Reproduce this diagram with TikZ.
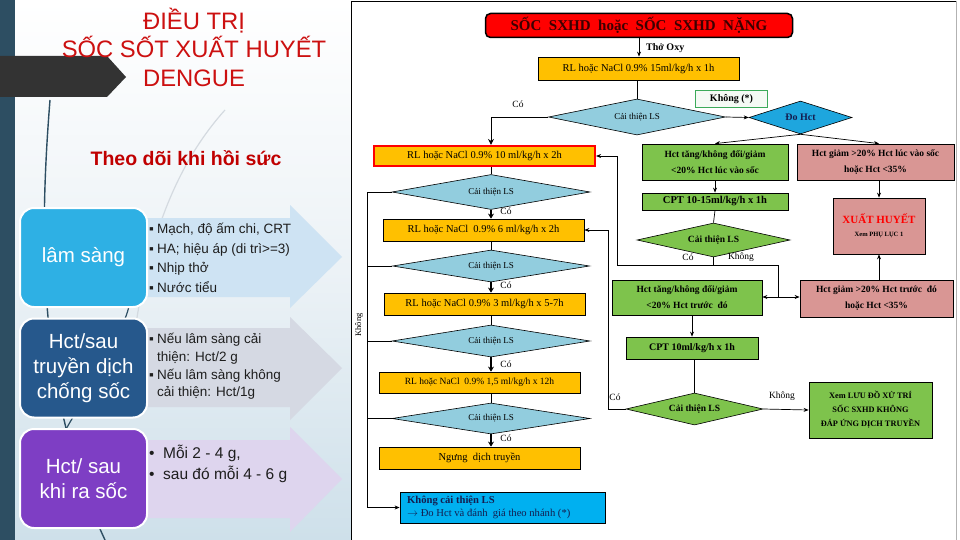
\documentclass[tikz,border=0pt]{standalone}
\usepackage{fontspec}
\setmainfont{Liberation Serif}
\newfontfamily\arialf{Liberation Sans}
\newfontfamily\timesf{Liberation Serif}
\usetikzlibrary{shapes.geometric,arrows.meta,calc}
\definecolor{barcol}{RGB}{45,78,98}
\definecolor{pentcol}{RGB}{51,51,51}
\definecolor{titred}{RGB}{204,16,16}
\definecolor{subred}{RGB}{192,0,0}
\definecolor{bgbot}{RGB}{206,224,234}
\definecolor{bgmid}{RGB}{236,242,246}
\definecolor{arA}{RGB}{206,227,243}
\definecolor{arB}{RGB}{213,217,227}
\definecolor{arC}{RGB}{222,213,238}
\definecolor{boxA}{RGB}{46,176,228}
\definecolor{boxB}{RGB}{38,88,140}
\definecolor{boxC}{RGB}{126,62,196}
\definecolor{txtgray}{RGB}{30,30,30}
\definecolor{flyellow}{RGB}{255,192,0}
\definecolor{flgreen}{RGB}{126,195,76}
\definecolor{flpink}{RGB}{217,150,148}
\definecolor{flblue}{RGB}{146,205,222}
\definecolor{hctblue}{RGB}{30,166,222}
\definecolor{navy}{RGB}{20,30,80}
\definecolor{kgreen}{RGB}{60,170,90}
\definecolor{kfill}{RGB}{245,250,245}
\definecolor{bluebox}{RGB}{0,176,240}
\definecolor{maroon}{RGB}{60,0,0}
\definecolor{swoosh}{RGB}{45,78,98}
\definecolor{swgray}{RGB}{212,218,224}
\begin{document}
\begin{tikzpicture}[x=1pt,y=-1pt,
  box/.style={draw=black, line width=0.8pt, inner sep=1pt, align=center,
    font=\timesf\fontsize{10.5}{12}\selectfont},
  ybox/.style={box, fill=flyellow},
  gbox/.style={box, fill=flgreen, font=\timesf\bfseries\fontsize{9.5}{16}\selectfont},
  pbox/.style={box, fill=flpink, font=\timesf\bfseries\fontsize{9.5}{16}\selectfont},
  ldia/.style={diamond, draw=black, line width=0.6pt, fill=flblue, inner sep=0pt, aspect=5,
    font=\timesf\fontsize{9}{10}\selectfont},
  gdia/.style={diamond, draw=black, line width=0.6pt, fill=flgreen, inner sep=0pt, aspect=5,
    font=\timesf\bfseries\fontsize{9.5}{10}\selectfont},
  ln/.style={line width=0.7pt},
  arr/.style={ln, -{Stealth[length=5pt,width=4pt]}},
  harr/.style={line width=1.6pt, -{Stealth[length=5pt,width=6pt]}},
  lbl/.style={font=\timesf\fontsize{9.5}{10}\selectfont, inner sep=0pt},
  rbox/.style={rounded corners=14pt, draw=white, line width=2pt, text=white, align=center,
    inner sep=0pt, minimum width=127pt, minimum height=99pt,
    font=\arialf\fontsize{20.5}{25}\selectfont},
  btxt/.style={anchor=west, align=left, inner sep=0pt, text=txtgray}
]
\useasboundingbox (0,0) rectangle (960,540);
% ---------- left panel background ----------
\fill[top color=white, bottom color=bgbot, middle color=bgmid] (0,0) rectangle (352,540);
\fill[barcol] (0,0) rectangle (15,540);
% decorative swooshes
\draw[swgray, line width=1.2pt] (225,110) .. controls (180,160) and (150,230) .. (135,330);
\draw[swoosh, line width=1.4pt] (50,100) .. controls (38,250) and (40,400) .. (105,540);
\draw[swoosh, line width=1.2pt] (130,300) .. controls (128,330) and (70,420) .. (60,440);
% pentagon
\fill[pentcol] (0,56) -- (107,56) -- (126,77) -- (107,97) -- (0,97) -- cycle;
% title
\node[font=\arialf\fontsize{23.8}{28.5}\selectfont, text=titred, align=center, inner sep=0pt]
  (ttl) at (194,47) {ĐIỀU TRỊ\\SỐC SỐT XUẤT HUYẾT\\DENGUE};
\node[font=\arialf\bfseries\fontsize{19.5}{22}\selectfont, text=subred, inner sep=0pt]
  (sub) at (186,158) {Theo dõi khi hồi sức};
% block arrows
\fill[arA] (100,218) -- (290,218) -- (290,205) -- (342,257) -- (290,308) -- (290,297) -- (100,297) -- cycle;
\fill[arB] (100,328) -- (290,328) -- (290,317) -- (342,368) -- (290,420) -- (290,407) -- (100,407) -- cycle;
\fill[arC] (100,440) -- (290,440) -- (290,427) -- (342,479) -- (290,532) -- (290,518) -- (100,518) -- cycle;
% rounded boxes
\node[rbox, fill=boxA] (bA) at (83.5,257.5) {lâm sàng};
\node[rbox, fill=boxB] (bB) at (83.5,368) {Hct/sau\\truyền dịch\\chống sốc};
\node[rbox, fill=boxC] (bC) at (83.5,478.5) {Hct/ sau\\khi ra sốc};
% bullet texts
\node[btxt, font=\arialf\fontsize{13.5}{19.5}\selectfont] (tA) at (149,258)
  {\makebox[8pt][l]{▪}Mạch, độ ấm chi, CRT\\\makebox[8pt][l]{▪}HA; hiệu áp (di trì>=3)\\\makebox[8pt][l]{▪}Nhịp thở\\\makebox[8pt][l]{▪}Nước tiểu};
\node[btxt, font=\arialf\fontsize{13.5}{17.8}\selectfont] (tB) at (149,366.5)
  {\makebox[8pt][l]{▪}Nếu lâm sàng cải\\\hspace*{8pt}thiện: Hct/2 g\\\makebox[8pt][l]{▪}Nếu lâm sàng không\\\hspace*{8pt}cải thiện: Hct/1g};
\node[btxt, font=\arialf\fontsize{15.5}{21}\selectfont] (tC) at (149,463.5)
  {\makebox[14pt][l]{•}Mỗi 2 - 4 g,\\\makebox[14pt][l]{•}sau đó mỗi 4 - 6 g};
% ---------- right panel ----------
\fill[white] (351,0) rectangle (957,540);
\draw[line width=0.9pt] (351.5,1) -- (956,1);
\draw[line width=0.9pt] (351.5,1) -- (351.5,540);
\draw[gray!60, line width=0.6pt] (956,1) -- (956,540);

\node[draw=black, line width=1.5pt, fill=red, rounded corners=5pt, minimum width=307pt, minimum height=24pt,
  inner sep=0pt, text=maroon, font=\timesf\bfseries\fontsize{15}{16}\selectfont]
  (title) at (639,25.5) {SỐC\ \ SXHD\ \ hoặc\ \ SỐC\ \ SXHD\ \ NẶNG};
\node[ybox, minimum width=201pt, minimum height=23pt] (y15) at (638.5,68.5) {RL hoặc NaCl 0.9\% 15ml/kg/h x 1h};
\node[ldia, minimum width=177pt, minimum height=36pt] (dA) at (637,117) {Cải thiện LS};
\node[draw=kgreen, line width=1.5pt, fill=kfill, minimum width=72pt, minimum height=17pt, inner sep=0pt,
  font=\timesf\bfseries\fontsize{10}{11}\selectfont] (kh) at (731.5,99) {Không (*)};
\node[diamond, draw=black, line width=0.6pt, fill=hctblue, inner sep=0pt, aspect=3, minimum width=103pt,
  minimum height=33pt, text=navy, font=\timesf\bfseries\fontsize{10}{11}\selectfont] (doh) at (800.5,117.5) {Đo Hct};
\node[gbox, minimum width=146pt, minimum height=36pt] (g1) at (715,162) {Hct tăng/không đổi/giảm\\<20\% Hct lúc vào sốc};
\node[pbox, minimum width=157pt, minimum height=36pt] (p1) at (875.5,162) {Hct giảm >20\% Hct lúc vào sốc\\hoặc Hct <35\%};
\node[gbox, minimum width=146pt, minimum height=17pt, font=\timesf\bfseries\fontsize{10.5}{12}\selectfont] (cpt1) at (715,201.5) {CPT 10-15ml/kg/h x 1h};
\node[gdia, minimum width=153pt, minimum height=34pt] (gd1) at (713.5,240) {Cải thiện LS};
\node[pbox, minimum width=92pt, minimum height=56pt, font=\timesf\bfseries\fontsize{6.5}{8}\selectfont] (xh) at (879,226)
  {{\color{red}\fontsize{11}{12}\selectfont XUẤT HUYẾT}\\[5pt]Xem PHỤ LỤC 1};
\node[gbox, minimum width=150pt, minimum height=35pt] (g2) at (687,297.5) {Hct tăng/không đổi/giảm\\<20\% Hct trước\ \ đó};
\node[pbox, minimum width=153pt, minimum height=37pt] (p2) at (876.5,298.5) {Hct giảm >20\% Hct trước\ \ đó\\hoặc Hct <35\%};
\node[gbox, minimum width=132pt, minimum height=22pt, font=\timesf\bfseries\fontsize{10}{12}\selectfont] (cpt2) at (692,348) {CPT 10ml/kg/h x 1h};
\node[gdia, minimum width=137pt, minimum height=32pt] (gd2) at (694.5,409) {Cải thiện LS};
\node[gbox, minimum width=123pt, minimum height=56pt, font=\timesf\bfseries\fontsize{8.3}{14}\selectfont] (fin) at (870.5,410)
  {Xem LƯU ĐỒ XỬ TRÍ\\SỐC SXHD KHÔNG\\ĐÁP ỨNG DỊCH TRUYỀN};

% left chain
\node[ybox, draw=red, line width=2.2pt, minimum width=221pt, minimum height=20pt] (r1) at (484.5,156) {RL hoặc NaCl 0.9\% 10 ml/kg/h x 2h};
\node[ldia, minimum width=198pt, minimum height=35pt] (ld1) at (491,192) {Cải thiện LS};
\node[ybox, minimum width=201pt, minimum height=22pt] (r2) at (483.5,230) {RL hoặc NaCl\ \ 0.9\% 6 ml/kg/h x 2h};
\node[ldia, minimum width=197pt, minimum height=32pt] (ld2) at (491,266) {Cải thiện LS};
\node[ybox, minimum width=201pt, minimum height=22pt] (r3) at (484.5,304) {RL hoặc NaCl 0.9\% 3 ml/kg/h x 5-7h};
\node[ldia, minimum width=198pt, minimum height=32pt] (ld3) at (491,341) {Cải thiện LS};
\node[ybox, minimum width=201pt, minimum height=21pt, font=\timesf\fontsize{9.5}{11}\selectfont] (r4) at (479.5,382.5) {RL hoặc NaCl\ \ 0.9\% 1,5 ml/kg/h x 12h};
\node[ldia, minimum width=198pt, minimum height=31pt] (ld4) at (491,418.5) {Cải thiện LS};
\node[ybox, minimum width=201pt, minimum height=22pt] (r5) at (479.5,458) {Ngưng\ \ dịch truyền};
\node[draw=black, line width=0.8pt, fill=bluebox, minimum width=205pt, minimum height=31pt, inner sep=0pt] (bl) at (502.5,507.5) {};
\node[anchor=west, align=left, inner sep=0pt, text=navy, font=\timesf\fontsize{10.6}{13}\selectfont] (blt) at (407,507)
  {\textbf{Không cải thiện LS}\\$\rightarrow$ Đo Hct và đánh\ \ giá theo nhánh (*)};

% ---------- connectors ----------
\draw[arr] (title.south) -- (title.south |- y15.north);
\node[anchor=west, inner sep=0pt, font=\timesf\bfseries\fontsize{10}{11}\selectfont] (oxy) at (646,48) {Thở Oxy};
\draw[ln] (dA.north |- y15.south) -- (dA.north);
\draw[line width=0.9pt, -{Stealth[length=6pt,width=6pt]}] (dA.west) -| (ld1.north |- r1.north);
\node[lbl] (c0) at (518,104) {Có};
\draw[arr] (dA.east) -- (doh.west);
\draw[arr] (doh.south) -- (g1.north);
\draw[arr] (doh.south) -- (xh.north |- p1.north);
\draw[arr] (g1.south) -- (cpt1.north);
\draw[ln] (cpt1.south) -- (gd1.north);
\coordinate (jl) at (617,265);
\coordinate (jr) at (778,265);
\coordinate (jm) at (778,297);
\draw[ln] (gd1.south) -- (gd1.south |- jl);
\draw[arr] (jr) -- (jl) -- (jl |- r1.east) -- (r1.east);
\draw[ln] (jr) -- (jm);
\draw[arr] (jm) -- (jm -| g2.east);
\draw[arr] (jm) -- (jm -| p2.west);
\node[lbl] (c1) at (688,257) {Có};
\node[lbl] (k1) at (741,257) {Không};
\draw[arr] (xh.north |- p1.south) -- (xh.north);
\draw[arr] (xh.south |- p2.north) -- (xh.south);
\draw[arr] (cpt2.north |- g2.south) -- (cpt2.north);
\draw[ln] (gd2.north |- cpt2.south) -- (gd2.north);
\coordinate (kx) at (608,0);
\draw[arr] (gd2.west) -| (kx |- r2.east) -- (r2.east);
\node[lbl] (c2) at (615,397) {Có};
\draw[arr] (gd2.east) -- (fin.west);
\node[lbl] (k2) at (782,396) {Không};

% left chain connectors
\draw[ln] (ld1.north |- r1.south) -- (ld1.north);
\draw[harr] (ld1.south) -- (ld1.south |- r2.north);
\node[lbl] (c3) at (506,211) {Có};
\draw[ln] (ld2.north |- r2.south) -- (ld2.north);
\draw[harr] (ld2.south) -- (ld2.south |- r3.north);
\node[lbl] (c4) at (506,285) {Có};
\draw[ln] (ld3.north |- r3.south) -- (ld3.north);
\draw[harr] (ld3.south) -- (ld3.south |- r4.north);
\node[lbl] (c5) at (506,364) {Có};
\draw[ln] (ld4.north |- r4.south) -- (ld4.north);
\draw[harr] (ld4.south) -- (ld4.south |- r5.north);
\node[lbl] (c6) at (506,438) {Có};
\coordinate (lv) at (367,0);
\draw[ln] (ld2.west) -- (ld2.west -| lv);
\draw[ln] (ld3.west) -- (ld3.west -| lv);
\draw[ln] (ld4.west) -- (ld4.west -| lv);
\draw[arr] (ld1.west) -- (ld1.west -| lv) -- (lv |- bl.west) -- (bl.west);
\node[lbl, rotate=90, font=\timesf\fontsize{8.5}{9}\selectfont] (k3) at (359,325) {Không};
\end{tikzpicture}
\end{document}
